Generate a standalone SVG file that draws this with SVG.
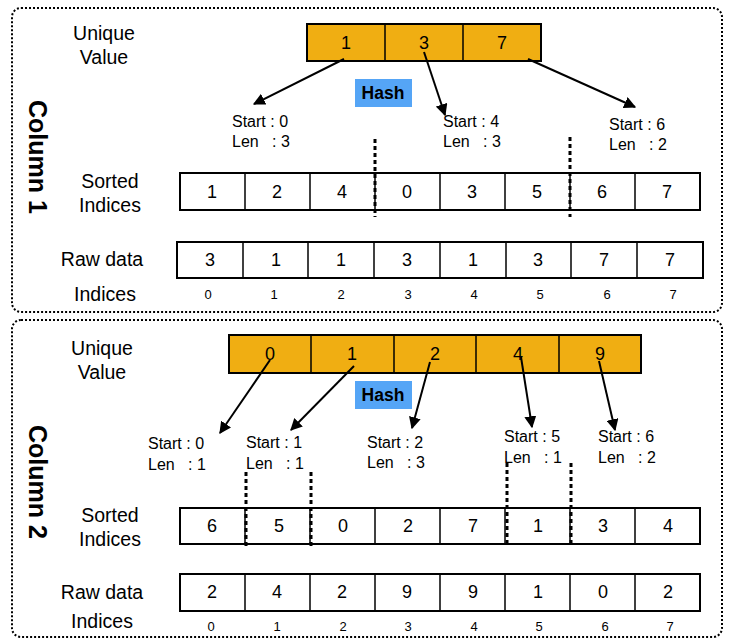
<svg xmlns="http://www.w3.org/2000/svg" width="733" height="641" viewBox="0 0 733 641">
<defs>
<style>
text{font-family:"Liberation Sans",Arial,sans-serif;fill:#000}
.lbl{font-size:19.5px;text-anchor:middle}
.cell{font-size:18px;text-anchor:middle}
.idx{font-size:13px;text-anchor:middle}
.se{font-size:16px;white-space:pre}
.hash{font-size:17.5px;font-weight:bold;text-anchor:middle}
.col{font-size:25px;font-weight:bold;text-anchor:middle}
.panel{fill:none;stroke:#000;stroke-width:2;stroke-dasharray:2 2}
.box{fill:#fff;stroke:#000;stroke-width:2}
.ubox{fill:#F0AE12;stroke:#000;stroke-width:2}
.div{stroke:#000;stroke-width:1.5}
.dot{stroke:#000;stroke-width:3;stroke-dasharray:4 3;fill:none}
.arr{stroke:#000;stroke-width:2;fill:none;marker-end:url(#ah)}
</style>
<marker id="ah" viewBox="0 0 10 10" refX="9" refY="5" markerWidth="6" markerHeight="6" orient="auto" markerUnits="strokeWidth">
<path d="M0,0 L10,5 L0,10 z" fill="#000"/>
</marker>
</defs>

<g id="panel1">
<rect class="panel" x="12" y="8" width="710" height="304" rx="9"/>
<text class="col" transform="translate(29,157) rotate(90)">Column 1</text>
</g>
<g id="panel2">
<rect class="panel" x="12" y="320" width="710" height="317" rx="9"/>
<text class="col" transform="translate(29,482) rotate(90)">Column 2</text>
</g>

<g id="labels1">
<text class="lbl" x="104" y="40">Unique</text>
<text class="lbl" x="104" y="64">Value</text>
<text class="lbl" x="110" y="188">Sorted</text>
<text class="lbl" x="110" y="212">Indices</text>
<text class="lbl" x="102" y="266">Raw data</text>
<text class="lbl" x="105" y="301">Indices</text>
</g>
<g id="labels2">
<text class="lbl" x="102" y="355">Unique</text>
<text class="lbl" x="102" y="379">Value</text>
<text class="lbl" x="110" y="522">Sorted</text>
<text class="lbl" x="110" y="546">Indices</text>
<text class="lbl" x="102" y="599">Raw data</text>
<text class="lbl" x="102" y="628">Indices</text>
</g>

<g id="unique1">
<rect class="ubox" x="307" y="24" width="234" height="37"/>
<line class="div" x1="385" y1="24" x2="385" y2="61"/>
<line class="div" x1="463" y1="24" x2="463" y2="61"/>
<text class="cell" x="346" y="49">1</text>
<text class="cell" x="424" y="49">3</text>
<text class="cell" x="502" y="49">7</text>
</g>

<g id="hash1">
<rect x="355" y="79" width="57" height="28" fill="#55A5F6"/>
<text class="hash" x="383" y="99">Hash</text>
</g>

<g id="startlen1">
<text class="se" x="232" y="127">Start : 0</text>
<text class="se" x="232" y="147">Len   : 3</text>
<text class="se" x="443" y="127">Start : 4</text>
<text class="se" x="443" y="147">Len   : 3</text>
<text class="se" x="609" y="130">Start : 6</text>
<text class="se" x="609" y="150">Len   : 2</text>
</g>

<g id="sorted1">
<rect class="box" x="180" y="173" width="520" height="37"/>
<line class="div" x1="245" y1="173" x2="245" y2="210"/>
<line class="div" x1="310" y1="173" x2="310" y2="210"/>
<line class="div" x1="375" y1="173" x2="375" y2="210"/>
<line class="div" x1="440" y1="173" x2="440" y2="210"/>
<line class="div" x1="505" y1="173" x2="505" y2="210"/>
<line class="div" x1="570" y1="173" x2="570" y2="210"/>
<line class="div" x1="635" y1="173" x2="635" y2="210"/>
<text class="cell" x="212" y="198">1</text>
<text class="cell" x="277" y="198">2</text>
<text class="cell" x="342" y="198">4</text>
<text class="cell" x="407" y="198">0</text>
<text class="cell" x="472" y="198">3</text>
<text class="cell" x="537" y="198">5</text>
<text class="cell" x="602" y="198">6</text>
<text class="cell" x="667" y="198">7</text>
</g>

<g id="raw1">
<rect class="box" x="177" y="242" width="526" height="36"/>
<line class="div" x1="243" y1="242" x2="243" y2="278"/>
<line class="div" x1="308" y1="242" x2="308" y2="278"/>
<line class="div" x1="374" y1="242" x2="374" y2="278"/>
<line class="div" x1="440" y1="242" x2="440" y2="278"/>
<line class="div" x1="506" y1="242" x2="506" y2="278"/>
<line class="div" x1="571" y1="242" x2="571" y2="278"/>
<line class="div" x1="637" y1="242" x2="637" y2="278"/>
<text class="cell" x="210" y="266">3</text>
<text class="cell" x="276" y="266">1</text>
<text class="cell" x="341" y="266">1</text>
<text class="cell" x="407" y="266">3</text>
<text class="cell" x="473" y="266">1</text>
<text class="cell" x="538" y="266">3</text>
<text class="cell" x="604" y="266">7</text>
<text class="cell" x="670" y="266">7</text>
</g>

<g id="indices1">
<text class="idx" x="208" y="299">0</text>
<text class="idx" x="274" y="299">1</text>
<text class="idx" x="341" y="299">2</text>
<text class="idx" x="408" y="299">3</text>
<text class="idx" x="474" y="299">4</text>
<text class="idx" x="540" y="299">5</text>
<text class="idx" x="607" y="299">6</text>
<text class="idx" x="673" y="299">7</text>
</g>

<g id="unique2">
<rect class="ubox" x="229" y="335" width="412" height="38"/>
<line class="div" x1="311" y1="335" x2="311" y2="373"/>
<line class="div" x1="394" y1="335" x2="394" y2="373"/>
<line class="div" x1="476" y1="335" x2="476" y2="373"/>
<line class="div" x1="559" y1="335" x2="559" y2="373"/>
<text class="cell" x="270" y="360">0</text>
<text class="cell" x="352" y="360">1</text>
<text class="cell" x="435" y="360">2</text>
<text class="cell" x="518" y="360">4</text>
<text class="cell" x="600" y="360">9</text>
</g>

<g id="hash2">
<rect x="355" y="381" width="57" height="28" fill="#55A5F6"/>
<text class="hash" x="383" y="401">Hash</text>
</g>

<g id="startlen2">
<text class="se" x="148" y="449">Start : 0</text>
<text class="se" x="148" y="470">Len   : 1</text>
<text class="se" x="246" y="448">Start : 1</text>
<text class="se" x="246" y="469">Len   : 1</text>
<text class="se" x="367" y="448">Start : 2</text>
<text class="se" x="367" y="468">Len   : 3</text>
<text class="se" x="504" y="442">Start : 5</text>
<text class="se" x="504" y="463">Len   : 1</text>
<text class="se" x="598" y="442">Start : 6</text>
<text class="se" x="598" y="463">Len   : 2</text>
</g>

<g id="sorted2">
<rect class="box" x="180" y="508" width="520" height="36"/>
<line class="div" x1="245" y1="508" x2="245" y2="544"/>
<line class="div" x1="310" y1="508" x2="310" y2="544"/>
<line class="div" x1="375" y1="508" x2="375" y2="544"/>
<line class="div" x1="440" y1="508" x2="440" y2="544"/>
<line class="div" x1="505" y1="508" x2="505" y2="544"/>
<line class="div" x1="570" y1="508" x2="570" y2="544"/>
<line class="div" x1="635" y1="508" x2="635" y2="544"/>
<text class="cell" x="212" y="532">6</text>
<text class="cell" x="279" y="532">5</text>
<text class="cell" x="343" y="532">0</text>
<text class="cell" x="408" y="532">2</text>
<text class="cell" x="473" y="532">7</text>
<text class="cell" x="538" y="532">1</text>
<text class="cell" x="603" y="532">3</text>
<text class="cell" x="668" y="532">4</text>
</g>

<g id="raw2">
<rect class="box" x="180" y="574" width="520" height="37"/>
<line class="div" x1="245" y1="574" x2="245" y2="611"/>
<line class="div" x1="310" y1="574" x2="310" y2="611"/>
<line class="div" x1="375" y1="574" x2="375" y2="611"/>
<line class="div" x1="440" y1="574" x2="440" y2="611"/>
<line class="div" x1="505" y1="574" x2="505" y2="611"/>
<line class="div" x1="570" y1="574" x2="570" y2="611"/>
<line class="div" x1="635" y1="574" x2="635" y2="611"/>
<text class="cell" x="212" y="598">2</text>
<text class="cell" x="277" y="598">4</text>
<text class="cell" x="342" y="598">2</text>
<text class="cell" x="407" y="598">9</text>
<text class="cell" x="473" y="598">9</text>
<text class="cell" x="538" y="598">1</text>
<text class="cell" x="603" y="598">0</text>
<text class="cell" x="668" y="598">2</text>
</g>

<g id="indices2">
<text class="idx" x="211" y="631">0</text>
<text class="idx" x="277" y="631">1</text>
<text class="idx" x="343" y="631">2</text>
<text class="idx" x="408" y="631">3</text>
<text class="idx" x="474" y="631">4</text>
<text class="idx" x="539" y="631">5</text>
<text class="idx" x="605" y="631">6</text>
<text class="idx" x="670" y="631">7</text>
</g>

<g id="connectors">
<line class="arr" x1="344" y1="59" x2="254" y2="104"/>
<line class="arr" x1="424" y1="52" x2="445" y2="115"/>
<line class="arr" x1="528" y1="59" x2="635" y2="107"/>
<line class="dot" x1="375" y1="139" x2="375" y2="217"/>
<line class="dot" x1="570" y1="137" x2="570" y2="217"/>

<line class="arr" x1="270" y1="360" x2="220" y2="433"/>
<line class="arr" x1="354" y1="366" x2="291" y2="430"/>
<line class="arr" x1="430" y1="362" x2="412" y2="428"/>
<line class="arr" x1="521" y1="357" x2="532" y2="427"/>
<line class="arr" x1="599" y1="361" x2="615" y2="430"/>
<line class="dot" x1="246" y1="472" x2="246" y2="548"/>
<line class="dot" x1="311" y1="472" x2="311" y2="548"/>
<line class="dot" x1="507" y1="463" x2="507" y2="545"/>
<line class="dot" x1="571" y1="463" x2="571" y2="545"/>
</g>
</svg>
